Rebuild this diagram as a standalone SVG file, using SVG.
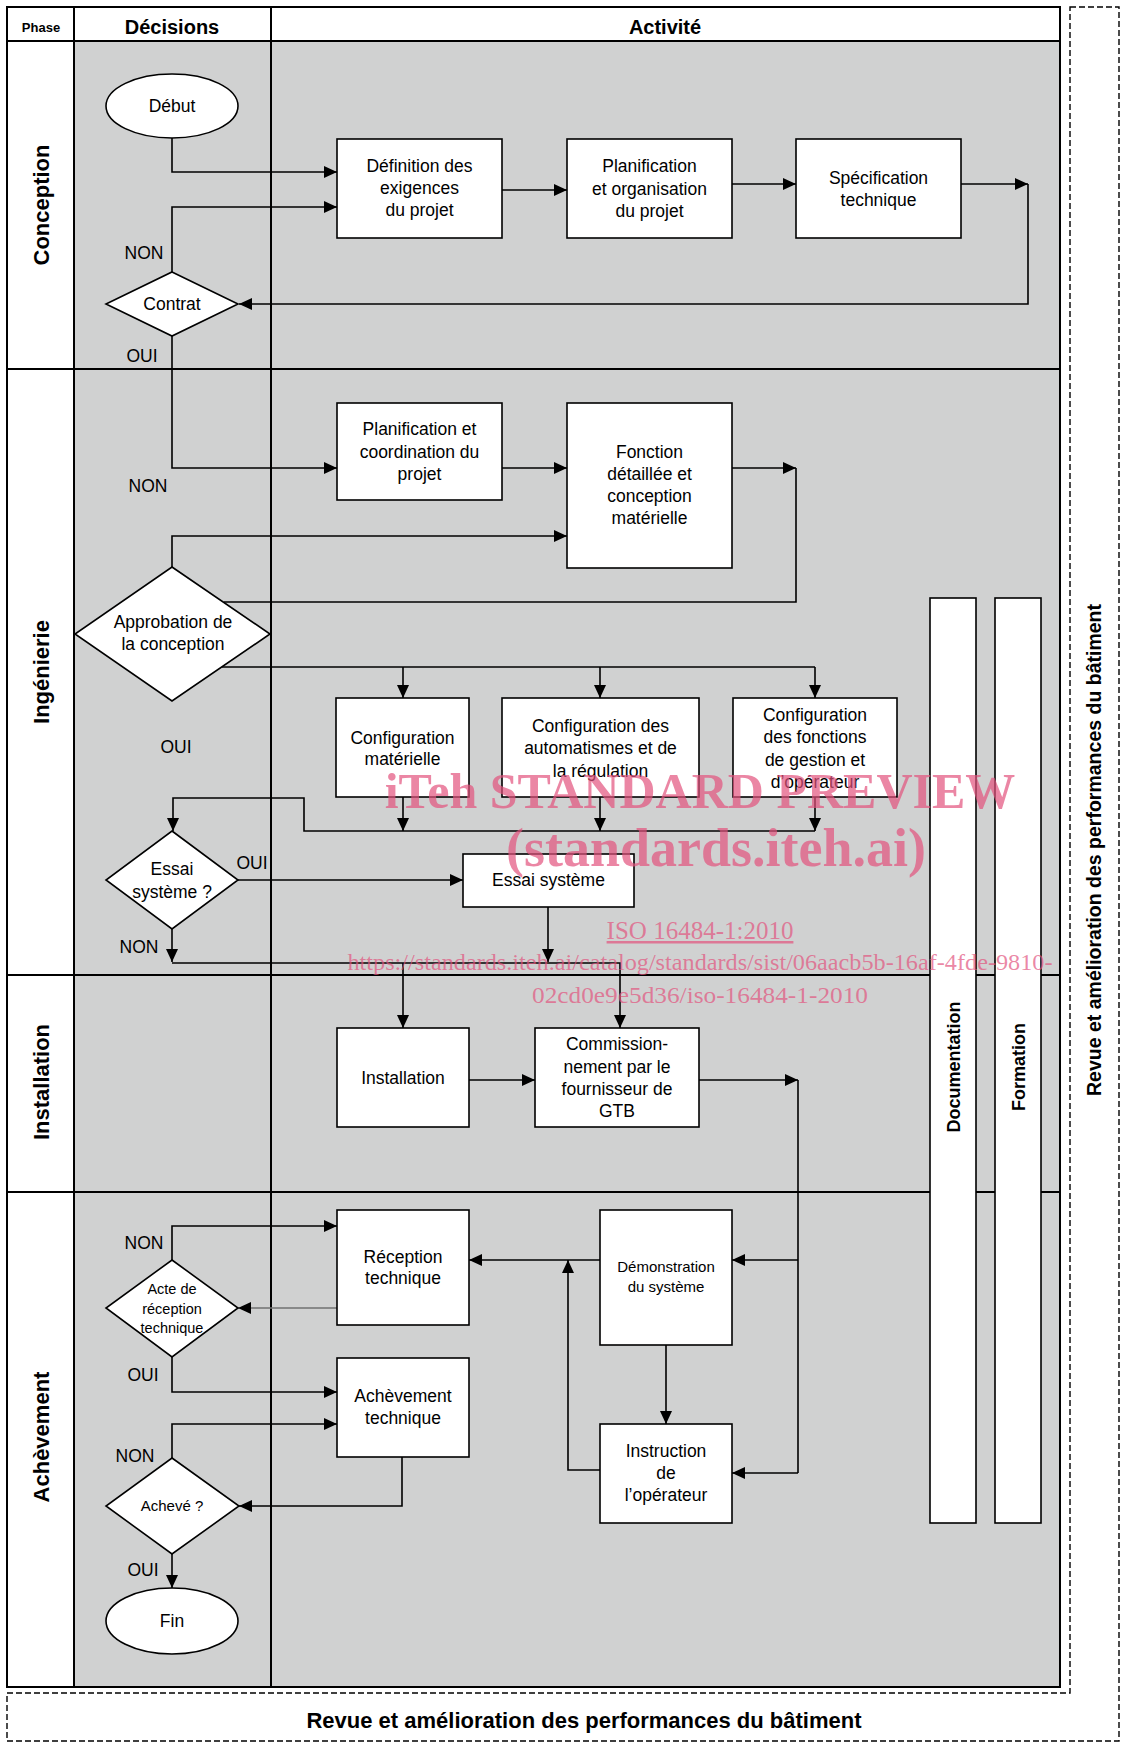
<svg xmlns="http://www.w3.org/2000/svg" width="1123" height="1747" viewBox="0 0 1123 1747">
<defs>
<marker id="ah" markerUnits="userSpaceOnUse" markerWidth="14" markerHeight="12" refX="13" refY="6" orient="auto"><path d="M0,0 L13,6 L0,12 z" fill="#000"/></marker>
</defs>
<style>
.t{font-family:"Liberation Sans",Arial,sans-serif;font-size:17.5px;fill:#000;text-anchor:middle}
.s{font-size:15px}
.h{font-weight:bold}
.box{fill:#fff;stroke:#000;stroke-width:1.6}
.c{fill:none;stroke:#000;stroke-width:1.6}
.a{marker-end:url(#ah)}
.grid{stroke:#000;stroke-width:2;fill:none}
.wm{font-family:"Liberation Serif","Times New Roman",serif;fill:#e2537e;fill-opacity:0.7;text-anchor:middle}
</style>
<rect x="0" y="0" width="1123" height="1747" fill="#fff"/>
<g id="lanes">
<rect x="74" y="41" width="986" height="1646" fill="#d0d1d1"/>
<rect class="grid" x="7" y="7" width="1053" height="1680"/>
<path class="grid" d="M7,41 H1060 M74,7 V1687 M271,7 V1687 M7,369 H1060 M7,975 H1060 M7,1192 H1060"/>
<text class="t h" x="41" y="32" style="font-size:13px">Phase</text>
<text class="t h" x="172" y="34" style="font-size:20px">Décisions</text>
<text class="t h" x="665" y="34" style="font-size:20px">Activité</text>
<text class="t h" transform="translate(48.5,205) rotate(-90)" style="font-size:22px">Conception</text>
<text class="t h" transform="translate(48.5,672) rotate(-90)" style="font-size:22px">Ingénierie</text>
<text class="t h" transform="translate(48.5,1082) rotate(-90)" style="font-size:22px">Installation</text>
<text class="t h" transform="translate(48.5,1437) rotate(-90)" style="font-size:22px">Achèvement</text>
<path d="M1070,7 H1119 V1741 H7 V1693 H1070 Z" fill="none" stroke="#000" stroke-width="1.4" stroke-dasharray="6,3"/>
<text class="t h" transform="translate(1101,850) rotate(-90)" style="font-size:19.5px">Revue et amélioration des performances du bâtiment</text>
<text class="t h" x="584" y="1728" style="font-size:22px">Revue et amélioration des performances du bâtiment</text>
</g>
<g id="connectors">
<path class="c a" d="M172,138 V172 H337"/>
<path class="c a" d="M172,272 V207 H337"/>
<path class="c a" d="M502,190 H567"/>
<path class="c a" d="M732,184 H796"/>
<path class="c a" d="M961,184 H1028"/>
<path class="c a" d="M1028,184 V304 H239"/>
<path class="c a" d="M172,336 V468 H337"/>
<path class="c a" d="M502,468 H567"/>
<path class="c a" d="M732,468 H796"/>
<path class="c" d="M796,468 V602 H224"/>
<path class="c a" d="M172,567 V536 H567"/>
<path class="c" d="M222,667 H815"/>
<path class="c a" d="M403,667 V698"/>
<path class="c a" d="M600,667 V698"/>
<path class="c a" d="M815,667 V698"/>
<path class="c a" d="M403,797 V831"/>
<path class="c a" d="M600,797 V831"/>
<path class="c a" d="M815,797 V831"/>
<path class="c a" d="M815,831 H304 V798 H173 V831"/>
<path class="c a" d="M238,880 H463"/>
<path class="c a" d="M172,929 V962"/>
<path class="c a" d="M548,907 V962"/>
<path class="c a" d="M172,963 H620 V1028"/>
<path class="c a" d="M403,963 V1028"/>
<path class="c a" d="M469,1080 H535"/>
<path class="c a" d="M699,1080 H798"/>
<path class="c" d="M798,1080 V1473"/>
<path class="c a" d="M798,1260 H732"/>
<path class="c a" d="M798,1473 H732"/>
<path class="c a" d="M600,1260 H469"/>
<path class="c a" d="M600,1470 H568 V1260"/>
<path class="c a" d="M666,1345 V1424"/>
<path class="c a" d="M337,1308 H238" style="stroke:#707070"/>
<path class="c a" d="M172,1260 V1226 H337"/>
<path class="c a" d="M172,1357 V1392 H337"/>
<path class="c a" d="M172,1458 V1424 H337"/>
<path class="c a" d="M402,1457 V1506 H239"/>
<path class="c a" d="M172,1554 V1588"/>
<text class="t" x="144" y="259">NON</text>
<text class="t" x="142" y="362">OUI</text>
<text class="t" x="148" y="492">NON</text>
<text class="t" x="176" y="753">OUI</text>
<text class="t" x="252" y="869">OUI</text>
<text class="t" x="139" y="953">NON</text>
<text class="t" x="144" y="1249">NON</text>
<text class="t" x="143" y="1381">OUI</text>
<text class="t" x="135" y="1462">NON</text>
<text class="t" x="143" y="1576">OUI</text>
</g>
<g id="debut"><ellipse class="box" cx="172" cy="106" rx="66" ry="32"/><text class="t" x="172" y="112">Début</text></g>
<g id="definition"><rect class="box" x="337" y="139" width="165" height="99"/><text class="t" x="419.5" y="172">Définition des</text><text class="t" x="419.5" y="194">exigences</text><text class="t" x="419.5" y="216">du projet</text></g>
<g id="planification"><rect class="box" x="567" y="139" width="165" height="99"/><text class="t" x="649.5" y="172">Planification</text><text class="t" x="649.5" y="195">et organisation</text><text class="t" x="649.5" y="217">du projet</text></g>
<g id="specification"><rect class="box" x="796" y="139" width="165" height="99"/><text class="t" x="878.5" y="184">Spécification</text><text class="t" x="878.5" y="206">technique</text></g>
<g id="contrat"><polygon class="box" points="172,272 238,304 172,336 106,304"/><text class="t" x="172" y="310">Contrat</text></g>
<g id="plancoord"><rect class="box" x="337" y="403" width="165" height="97"/><text class="t" x="419.5" y="435">Planification et</text><text class="t" x="419.5" y="458">coordination du</text><text class="t" x="419.5" y="480">projet</text></g>
<g id="fonction"><rect class="box" x="567" y="403" width="165" height="165"/><text class="t" x="649.5" y="458">Fonction</text><text class="t" x="649.5" y="480">détaillée et</text><text class="t" x="649.5" y="502">conception</text><text class="t" x="649.5" y="524">matérielle</text></g>
<g id="approbation"><polygon class="box" points="172,567 270,634 172,701 75,634"/><text class="t" x="173" y="628">Approbation de</text><text class="t" x="173" y="650">la conception</text></g>
<g id="cfg1"><rect class="box" x="336" y="698" width="133" height="99"/><text class="t" x="402.5" y="744">Configuration</text><text class="t" x="402.5" y="765">matérielle</text></g>
<g id="cfg2"><rect class="box" x="502" y="698" width="197" height="99"/><text class="t" x="600.5" y="732">Configuration des</text><text class="t" x="600.5" y="754">automatismes et de</text><text class="t" x="600.5" y="777">la régulation</text></g>
<g id="cfg3"><rect class="box" x="733" y="698" width="164" height="99"/><text class="t" x="815" y="721">Configuration</text><text class="t" x="815" y="743">des fonctions</text><text class="t" x="815" y="766">de gestion et</text><text class="t" x="815" y="788">d’opérateur</text></g>
<g id="essaiq"><polygon class="box" points="172,831 238,880 172,929 106,880"/><text class="t" x="172" y="875">Essai</text><text class="t" x="172" y="898">système ?</text></g>
<g id="essai"><rect class="box" x="463" y="854" width="171" height="53"/><text class="t" x="548.5" y="886">Essai système</text></g>
<g id="installation"><rect class="box" x="337" y="1028" width="132" height="99"/><text class="t" x="403" y="1084">Installation</text></g>
<g id="commission"><rect class="box" x="535" y="1028" width="164" height="99"/><text class="t" x="617" y="1050">Commission-</text><text class="t" x="617" y="1073">nement par le</text><text class="t" x="617" y="1095">fournisseur de</text><text class="t" x="617" y="1117">GTB</text></g>
<g id="reception"><rect class="box" x="337" y="1210" width="132" height="115"/><text class="t" x="403" y="1263">Réception</text><text class="t" x="403" y="1284">technique</text></g>
<g id="demonstration"><rect class="box" x="600" y="1210" width="132" height="135"/><text class="t s" x="666" y="1272">Démonstration</text><text class="t s" x="666" y="1292">du système</text></g>
<g id="acte"><polygon class="box" points="172,1260 238,1308 172,1357 106,1308"/><text class="t" x="172" y="1294" style="font-size:14.5px">Acte de</text><text class="t" x="172" y="1314" style="font-size:14.5px">réception</text><text class="t" x="172" y="1333" style="font-size:14.5px">technique</text></g>
<g id="achevement"><rect class="box" x="337" y="1358" width="132" height="99"/><text class="t" x="403" y="1402">Achèvement</text><text class="t" x="403" y="1424">technique</text></g>
<g id="instruction"><rect class="box" x="600" y="1424" width="132" height="99"/><text class="t" x="666" y="1457">Instruction</text><text class="t" x="666" y="1479">de</text><text class="t" x="666" y="1501">l’opérateur</text></g>
<g id="acheve"><polygon class="box" points="172,1458 239,1506 172,1554 106,1506"/><text class="t s" x="172" y="1511">Achevé ?</text></g>
<g id="fin"><ellipse class="box" cx="172" cy="1621" rx="66" ry="33"/><text class="t" x="172" y="1627">Fin</text></g>
<g id="documentation"><rect class="box" x="930" y="598" width="46" height="925"/><text class="t h" transform="translate(959.5,1067) rotate(-90)" style="font-size:18px">Documentation</text></g>
<g id="formation"><rect class="box" x="995" y="598" width="46" height="925"/><text class="t h" transform="translate(1024.5,1067) rotate(-90)" style="font-size:18px">Formation</text></g>
<g id="watermark">
<text class="wm" x="700" y="808" style="font-size:50px;font-weight:bold">iTeh STANDARD PREVIEW</text>
<text class="wm" x="716" y="866" style="font-size:54px;font-weight:bold">(standards.iteh.ai)</text>
<text class="wm" x="700" y="939" style="font-size:25px;text-decoration:underline">ISO 16484-1:2010</text>
<text class="wm" x="700" y="970" style="font-size:24px" textLength="705" lengthAdjust="spacingAndGlyphs">https://standards.iteh.ai/catalog/standards/sist/06aacb5b-16af-4fde-9810-</text>
<text class="wm" x="700" y="1003" style="font-size:24px" textLength="336" lengthAdjust="spacingAndGlyphs">02cd0e9e5d36/iso-16484-1-2010</text>
</g>
</svg>
